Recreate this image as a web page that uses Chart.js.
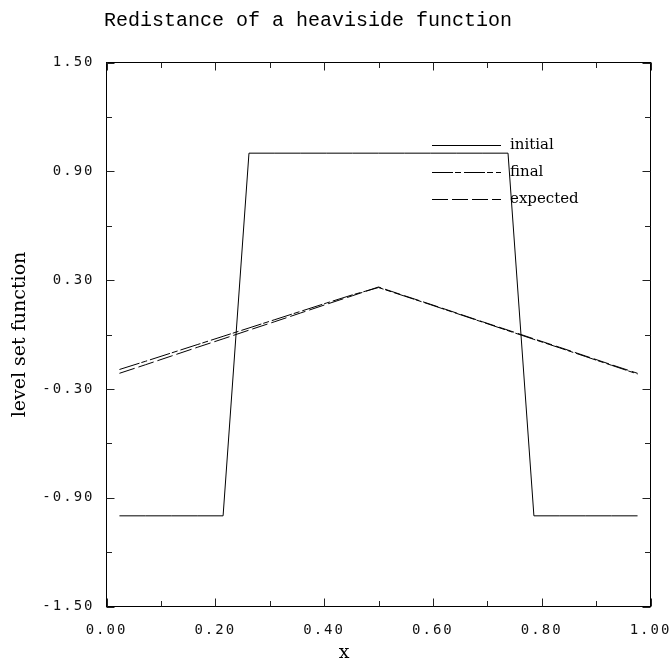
<!DOCTYPE html>
<html>
<head>
<meta charset="utf-8">
<script src="https://cdn.jsdelivr.net/npm/chart.js@4.4.0/dist/chart.umd.min.js"></script>
<style>
html,body{margin:0;padding:0;background:#fff;}
canvas{display:block;}
</style>
</head>
<body>
<canvas id="c" width="670" height="667"></canvas>
<script>
// ---- data ----
const titleText = 'Redistance of a heaviside function';
const xTitleText = 'x';
const yTitleText = 'level set function';
const seriesNames = ['initial', 'final', 'expected'];
const xValues = [0.0238, 0.0714, 0.1190, 0.1667, 0.2143, 0.2619, 0.3095, 0.3571, 0.4048, 0.4524, 0.5000,
                 0.5476, 0.5952, 0.6429, 0.6905, 0.7381, 0.7857, 0.8333, 0.8810, 0.9286, 0.9762];
const initialValues = [-1, -1, -1, -1, -1, 1, 1, 1, 1, 1, 1, 1, 1, 1, 1, 1, -1, -1, -1, -1, -1];
const finalValues = [-0.193, -0.148, -0.102, -0.056, -0.010, 0.036, 0.082, 0.128, 0.174, 0.219, 0.259,
                     0.212, 0.165, 0.117, 0.069, 0.021, -0.027, -0.074, -0.122, -0.170, -0.218];
const expectedValues = [-0.214, -0.167, -0.119, -0.071, -0.024, 0.024, 0.071, 0.119, 0.167, 0.214, 0.262,
                        0.214, 0.167, 0.119, 0.071, 0.024, -0.024, -0.071, -0.119, -0.167, -0.214];
const xTickLabels = ['0.00', '', '0.20', '', '0.40', '', '0.60', '', '0.80', '', '1.00'];
const yTickLabels = ['-1.50', '', '-0.90', '', '-0.30', '', '0.30', '', '0.90', '', '1.50'];

const toPoints = (ys) => ys.map((y, i) => ({x: xValues[i], y: y}));

const framePlugin = {
  id: 'frame',
  beforeDraw(chart) {
    Object.values(chart.scales).forEach(s => {
      if (!s._lsWrapped) {
        const orig = s.drawLabels;
        s.drawLabels = function(area) {
          const ctx = this.ctx;
          ctx.save();
          try { ctx.letterSpacing = '2px'; } catch (e) {}
          orig.call(this, area);
          ctx.restore();
        };
        s._lsWrapped = true;
      }
    });
  },
  afterDraw(chart) {
    const ctx = chart.ctx;
    const a = chart.chartArea;
    const xs = chart.scales.x, ys = chart.scales.y;
    ctx.save();
    // frame
    ctx.strokeStyle = '#000';
    ctx.lineWidth = 1;
    ctx.strokeRect(a.left, a.top, a.right - a.left, a.bottom - a.top);
    // inward ticks
    ctx.strokeStyle = '#222';
    ctx.beginPath();
    xs.ticks.forEach((t, i) => {
      const px = Math.round(xs.getPixelForValue(t.value)) + 0.5;
      const len = xTickLabels[i] ? 8 : 5.5;
      ctx.moveTo(px, a.bottom); ctx.lineTo(px, a.bottom - len);
      ctx.moveTo(px, a.top); ctx.lineTo(px, a.top + len);
    });
    ys.ticks.forEach((t, i) => {
      const py = Math.round(ys.getPixelForValue(t.value)) + 0.5;
      const len = yTickLabels[i] ? 8 : 5.5;
      ctx.moveTo(a.left, py); ctx.lineTo(a.left + len, py);
      ctx.moveTo(a.right, py); ctx.lineTo(a.right - len, py);
    });
    ctx.stroke();
    // legend
    const lx0 = 432, lx1 = 501, ly = [145, 172, 199];
    chart.data.datasets.forEach((ds, i) => {
      ctx.beginPath();
      ctx.setLineDash(ds.borderDash || []);
      ctx.strokeStyle = ds.borderColor;
      ctx.lineWidth = ds.borderWidth;
      ctx.moveTo(lx0, ly[i] + 0.5); ctx.lineTo(lx1, ly[i] + 0.5);
      ctx.stroke();
      ctx.setLineDash([]);
      ctx.fillStyle = '#000';
      ctx.font = '15px "DejaVu Serif"';
      ctx.textAlign = 'left';
      ctx.textBaseline = 'middle';
      ctx.fillText(ds.label, 510, ly[i]);
    });
    // main title
    ctx.fillStyle = '#000';
    ctx.font = '20px "Liberation Mono"';
    ctx.textAlign = 'center';
    ctx.textBaseline = 'middle';
    ctx.fillText(titleText, 308, 21);
    // x axis title
    ctx.font = '19px "DejaVu Serif"';
    ctx.fillText(xTitleText, 344, 653);
    ctx.restore();
  }
};

new Chart(document.getElementById('c'), {
  type: 'line',
  data: {
    datasets: [
      {label: seriesNames[0], data: toPoints(initialValues), borderColor: '#000', borderWidth: 1, borderDash: [], pointRadius: 0, tension: 0, fill: false},
      {label: seriesNames[1], data: toPoints(finalValues), borderColor: '#000', borderWidth: 1, borderDash: [21, 2, 6, 3], pointRadius: 0, tension: 0, fill: false},
      {label: seriesNames[2], data: toPoints(expectedValues), borderColor: '#000', borderWidth: 1, borderDash: [16, 4], pointRadius: 0, tension: 0, fill: false}
    ]
  },
  options: {
    responsive: false,
    animation: false,
    devicePixelRatio: 1,
    layout: {padding: {top: 62.5, right: 19.5, left: 0, bottom: 0}},
    plugins: {legend: {display: false}, title: {display: false}, tooltip: {enabled: false}},
    scales: {
      x: {
        type: 'linear', min: 0, max: 1,
        afterFit: (s) => { s.height = 60.5; s.paddingLeft = 0; s.paddingRight = 0; },
        grid: {display: false, drawTicks: false},
        border: {display: false},
        ticks: {stepSize: 0.1, autoSkip: false, maxRotation: 0, padding: 15, labelOffset: 0,
                color: '#111', font: {family: '"DejaVu Sans Mono"', size: 14},
                callback: (v, i) => xTickLabels[i]},
        title: {display: false, text: xTitleText}
      },
      y: {
        type: 'linear', min: -1.5, max: 1.5,
        afterFit: (s) => { s.width = 106.5; s.paddingTop = 0; s.paddingBottom = 0; },
        grid: {display: false, drawTicks: false},
        border: {display: false},
        ticks: {stepSize: 0.3, autoSkip: false, padding: 12,
                color: '#111', font: {family: '"DejaVu Sans Mono"', size: 14},
                callback: (v, i) => yTickLabels[i]},
        title: {display: true, text: yTitleText, color: '#000',
                font: {family: '"DejaVu Serif"', size: 19}, padding: {top: 9, bottom: 0}}
      }
    }
  },
  plugins: [framePlugin]
});
</script>
</body>
</html>
